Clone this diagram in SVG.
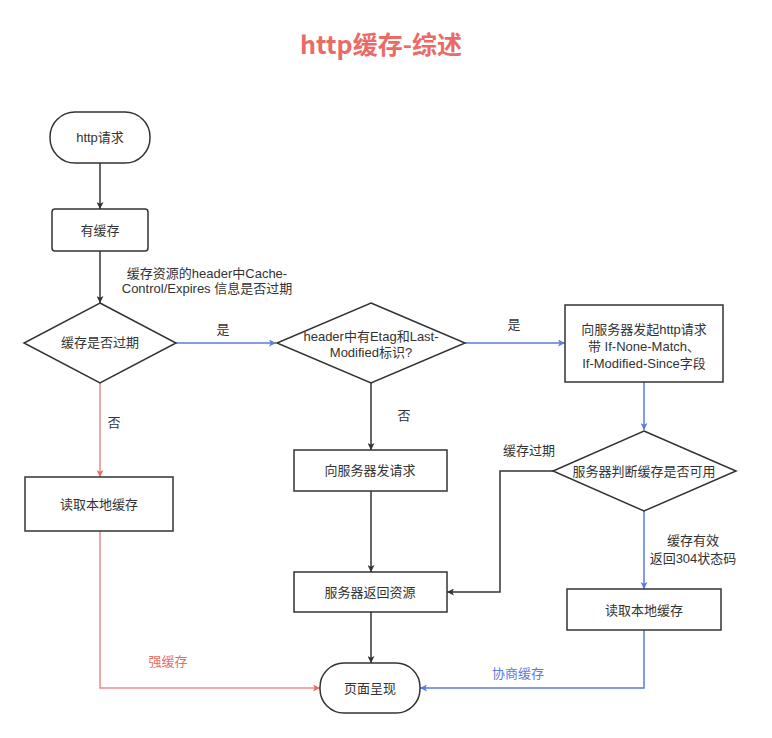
<svg xmlns="http://www.w3.org/2000/svg" width="772" height="738" viewBox="0 0 772 738">
<defs>
<style>
.node{fill:#fff;stroke:#333;stroke-width:1.5}
.t{font-family:"Liberation Sans","Noto Sans CJK SC",sans-serif;font-size:13px;fill:#333;text-anchor:middle}
.lbl{font-family:"Liberation Sans","Noto Sans CJK SC",sans-serif;font-size:13px;fill:#333;text-anchor:middle}
.k{fill:none;stroke:#333;stroke-width:1.5}
.b{fill:none;stroke:#5B7BE0;stroke-width:1.5}
.r{fill:none;stroke:#EA8A8A;stroke-width:1.5}
</style>
<marker id="ak" viewBox="0 0 10 10" refX="10" refY="5" markerWidth="7" markerHeight="7" markerUnits="userSpaceOnUse" orient="auto"><path d="M0,0 L10,5 L0,10 L2.5,5 z" fill="#333"/></marker>
<marker id="ab" viewBox="0 0 10 10" refX="10" refY="5" markerWidth="7" markerHeight="7" markerUnits="userSpaceOnUse" orient="auto"><path d="M0,0 L10,5 L0,10 L2.5,5 z" fill="#5B7BE0"/></marker>
<marker id="ar" viewBox="0 0 10 10" refX="10" refY="5" markerWidth="7" markerHeight="7" markerUnits="userSpaceOnUse" orient="auto"><path d="M0,0 L10,5 L0,10 L2.5,5 z" fill="#EA6B66"/></marker>
</defs>
<rect width="772" height="738" fill="#fff"/>
<text x="381" y="54" font-family="'Noto Sans CJK SC','Noto Sans',sans-serif" font-size="25" font-weight="bold" fill="#EA6B66" text-anchor="middle">http缓存-综述</text>

<g id="connectors">
<path class="k" d="M100,163 V209" marker-end="url(#ak)"/>
<path class="k" d="M100,251 V303" marker-end="url(#ak)"/>
<path class="b" d="M175,343 H276" marker-end="url(#ab)"/>
<path class="b" d="M465,343 H565" marker-end="url(#ab)"/>
<path class="r" d="M100,383 V477" stroke="#EA6B66" marker-end="url(#ar)"/>
<path class="r" d="M100,531 V688 H320" marker-end="url(#ar)"/>
<path class="k" d="M371,383 V450" marker-end="url(#ak)"/>
<path class="k" d="M371,491 V572" marker-end="url(#ak)"/>
<path class="k" d="M371,612 V663" marker-end="url(#ak)"/>
<path class="b" d="M644,382 V430" marker-end="url(#ab)"/>
<path class="k" d="M553,471 H500 V592 H447" marker-end="url(#ak)"/>
<path class="b" d="M644,511 V589" marker-end="url(#ab)"/>
<path class="b" d="M644,630 V688 H420" marker-end="url(#ab)"/>
<text class="lbl" x="207" y="278">缓存资源的header中Cache-</text>
<text class="lbl" x="207" y="293">Control/Expires 信息是否过期</text>
<text class="lbl" x="223" y="334">是</text>
<text class="lbl" x="514" y="329">是</text>
<text class="lbl" x="114" y="427">否</text>
<text class="lbl" x="404" y="420">否</text>
<text class="lbl" x="529" y="455">缓存过期</text>
<text class="lbl" x="693" y="545">缓存有效</text>
<text class="lbl" x="693" y="563">返回304状态码</text>
<text class="lbl" x="168" y="666" style="fill:#EA6B66">强缓存</text>
<text class="lbl" x="518" y="678" style="fill:#5B7BE0">协商缓存</text>
</g>

<g id="n1"><rect class="node" x="50" y="112" width="100" height="51" rx="25"/><text class="t" x="100" y="142">http请求</text></g>
<g id="n2"><rect class="node" x="52" y="209" width="96" height="42" rx="3"/><text class="t" x="100" y="235">有缓存</text></g>
<g id="n3"><polygon class="node" points="100,303 176,343 100,383 24,343"/><text class="t" x="100" y="347">缓存是否过期</text></g>
<g id="n4"><rect class="node" x="25" y="477" width="148" height="54"/><text class="t" x="99" y="509">读取本地缓存</text></g>
<g id="n5"><polygon class="node" points="371,303 465,343 371,383 277,343"/><text class="t" x="371" y="341">header中有Etag和Last-</text><text class="t" x="371" y="357">Modified标识?</text></g>
<g id="n6"><rect class="node" x="294" y="450" width="153" height="41"/><text class="t" x="370" y="475">向服务器发请求</text></g>
<g id="n7"><rect class="node" x="294" y="572" width="153" height="40"/><text class="t" x="370" y="597">服务器返回资源</text></g>
<g id="n8"><rect class="node" x="320" y="663" width="100" height="50" rx="24"/><text class="t" x="370" y="693">页面呈现</text></g>
<g id="n9"><rect class="node" x="565" y="305" width="158" height="77"/><text class="t" x="644" y="334">向服务器发起http请求</text><text class="t" x="644" y="351">带 If-None-Match、</text><text class="t" x="644" y="368">If-Modified-Since字段</text></g>
<g id="n10"><polygon class="node" points="644,431 736,471 644,511 553,471"/><text class="t" x="644" y="476">服务器判断缓存是否可用</text></g>
<g id="n11"><rect class="node" x="567" y="589" width="154" height="41"/><text class="t" x="644" y="615">读取本地缓存</text></g>
</svg>
